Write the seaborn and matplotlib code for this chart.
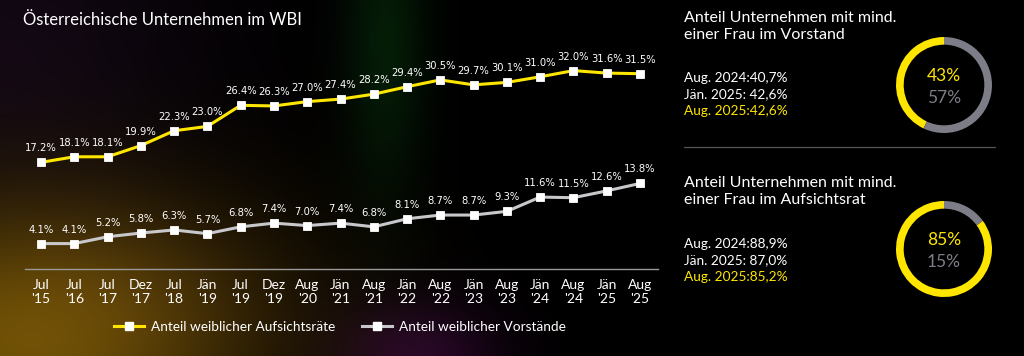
import numpy as np
import pandas as pd
import matplotlib
matplotlib.use("Agg")
import matplotlib.pyplot as plt
from matplotlib.lines import Line2D
import seaborn as sns

# ---------------- data ----------------
months = ["Jul\n'15", "Jul\n'16", "Jul\n'17", "Dez\n'17", "Jul\n'18", "Jän\n'19", "Jul\n'19",
          "Dez\n'19", "Aug\n'20", "Jän\n'21", "Aug\n'21", "Jän\n'22", "Aug\n'22", "Jän\n'23",
          "Aug\n'23", "Jän\n'24", "Aug\n'24", "Jän\n'25", "Aug\n'25"]
aufsichtsraete = [17.2, 18.1, 18.1, 19.9, 22.3, 23.0, 26.4, 26.3, 27.0, 27.4, 28.2, 29.4,
                  30.5, 29.7, 30.1, 31.0, 32.0, 31.6, 31.5]
vorstaende = [4.1, 4.1, 5.2, 5.8, 6.3, 5.7, 6.8, 7.4, 7.0, 7.4, 6.8, 8.1,
              8.7, 8.7, 9.3, 11.6, 11.5, 12.6, 13.8]
series_names = ["Anteil weiblicher Aufsichtsräte", "Anteil weiblicher Vorstände"]

title_main = "Österreichische Unternehmen im WBI"

donut_titles = ["Anteil Unternehmen mit mind.\neiner Frau im Vorstand",
                "Anteil Unternehmen mit mind.\neiner Frau im Aufsichtsrat"]
donut_history_labels = ["Aug. 2024:", "Jän. 2025: ", "Aug. 2025:"]
donut_vorstand_hist = ["40,7%", "42,6%", "42,6%"]
donut_aufsicht_hist = ["88,9%", "87,0%", "85,2%"]
donut_vorstand = [43, 57]
donut_aufsicht = [85, 15]

YELLOW = "#FFE600"
LGREY = "#c8c8cc"
DGREY = "#7d7d87"

# ---------------- figure ----------------
W, H = 1024, 356
fig = plt.figure(figsize=(W / 100, H / 100), dpi=100)
fig.patch.set_facecolor("black")

# background glow (styling only)
bg = fig.add_axes([0, 0, 1, 1])
yy, xx = np.mgrid[0:H, 0:W]
img = np.zeros((H, W, 3))
def blob(cx, cy, sx, sy, col, amp=1.0):
    g = amp * np.exp(-(((xx - cx) / sx) ** 2 + ((yy - cy) / sy) ** 2))
    return g[..., None] * np.array(col)[None, None, :]
img += blob(0, 356, 230, 150, [0.36, 0.27, 0.01])
img += blob(120, 300, 190, 110, [0.13, 0.08, 0.02])
img += blob(385, 40, 40, 150, [0.015, 0.11, 0.025])
img += blob(420, 356, 80, 55, [0.14, 0.02, 0.15])
img += blob(0, 40, 200, 140, [0.07, 0.03, 0.08])
img = np.clip(img, 0, 1)
bg.imshow(img, extent=[0, W, H, 0], aspect="auto")
bg.set_axis_off()

plt.rcParams["font.family"] = ["Lato", "DejaVu Sans"]

# ---------------- line chart ----------------
ax_l, ax_b, ax_r, ax_t = 25, 269, 658, 58
ax = fig.add_axes([ax_l / W, 1 - ax_b / H, (ax_r - ax_l) / W, (ax_b - ax_t) / H])
ax.set_facecolor("none")

x = np.arange(len(months))
df = pd.DataFrame({
    "x": np.concatenate([x, x]),
    "v": aufsichtsraete + vorstaende,
    "s": [series_names[0]] * len(x) + [series_names[1]] * len(x),
})
sns.lineplot(data=df, x="x", y="v", hue="s", palette=[YELLOW, LGREY], style="s",
             markers=["s", "s"], dashes=False, linewidth=2.2, markersize=5.5,
             ax=ax, legend=False)
for ln in ax.lines:
    ln.set_markerfacecolor("white")
    ln.set_markeredgecolor("white")
    ln.set_markeredgewidth(0.6)

for vals in (aufsichtsraete, vorstaende):
    for xi, v in zip(x, vals):
        ax.annotate(f"{v:.1f}%", (xi, v), xytext=(0, 6.5), textcoords="offset points",
                    ha="center", va="bottom", color="white", fontsize=7.2,
                    family="DejaVu Sans")

n = len(months)
sp = (640 - 41) / (n - 1)
ax.set_xlim(-(41 - ax_l) / sp, (n - 1) + (ax_r - 640) / sp)
ax.set_ylim(0, (ax_b - ax_t) / 6.2)
ax.set_xticks(x)
ax.set_xticklabels(months, color="white", fontsize=10, linespacing=1.2)
ax.tick_params(axis="x", length=0, pad=7)
ax.set_yticks([])
ax.set_xlabel("")
ax.set_ylabel("")
for sname, sp_ in ax.spines.items():
    sp_.set_visible(sname == "bottom")
ax.spines["bottom"].set_color("#9a9a9a")
ax.spines["bottom"].set_linewidth(1.0)

handles = [Line2D([], [], color=c, lw=2.2, marker="s", markersize=5.5,
                  markerfacecolor="white", markeredgecolor="white")
           for c in (YELLOW, LGREY)]
fig.legend(handles, series_names, loc="center", bbox_to_anchor=(340 / W, 1 - 327 / H),
           ncol=2, frameon=False, fontsize=9.8, labelcolor="white",
           handlelength=2.2, columnspacing=2.0, handletextpad=0.5)

fig.text(23 / W, 1 - 20 / H, title_main, color="white", fontsize=12, va="center", ha="left")

# ---------------- right panel ----------------
def panel(title, ytitle, yhist, hist_vals, shares, cy):
    fig.text(684 / W, 1 - ytitle / H, title,
             color="white", fontsize=11.5, va="top", ha="left", linespacing=1.3)
    for i, (lab, val) in enumerate(zip(donut_history_labels, hist_vals)):
        col = YELLOW if i == 2 else "white"
        fig.text(684 / W, 1 - (yhist + i * 16.5) / H, lab + val, color=col,
                 fontsize=9.8, va="center", ha="left")
    r = 48
    dax = fig.add_axes([(944 - r) / W, 1 - (cy + r) / H, 2 * r / W, 2 * r / H])
    dax.pie(shares, colors=[YELLOW, DGREY], startangle=90, counterclock=True,
            wedgeprops=dict(width=0.16, edgecolor="none"))
    dax.set_aspect("auto")
    dax.set_xlim(-1, 1)
    dax.set_ylim(-1, 1)
    dax.text(0, 0.18, f"{shares[0]}%", color=YELLOW, fontsize=12.5, ha="center", va="center")
    dax.text(0, -0.27, f"{shares[1]}%", color=DGREY, fontsize=12.5, ha="center", va="center")

panel(donut_titles[0], 11, 78, donut_vorstand_hist, donut_vorstand, 85)
panel(donut_titles[1], 176, 244, donut_aufsicht_hist, donut_aufsicht, 249)

fig.add_artist(Line2D([684 / W, 995 / W], [1 - 147 / H, 1 - 147 / H], color="#555555", lw=0.9))

fig.savefig("out.png", dpi=100, facecolor="black")
